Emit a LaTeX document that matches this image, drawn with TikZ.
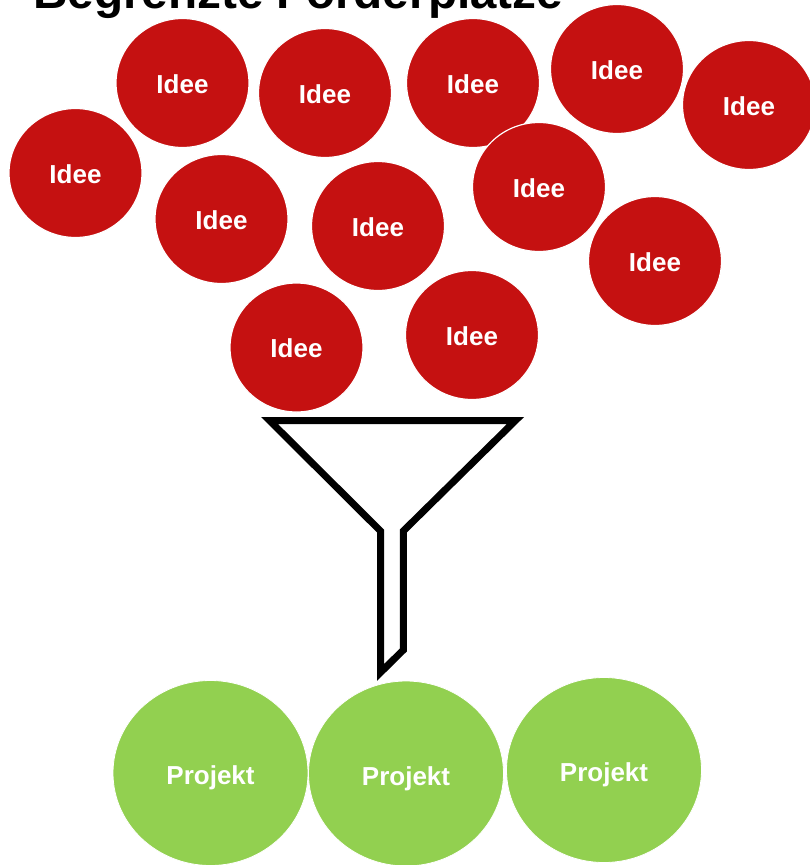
\documentclass[tikz,border=0pt]{standalone}
\usepackage{fontspec}
\setmainfont{Liberation Sans}
\usetikzlibrary{shapes.geometric}
\definecolor{ideared}{RGB}{197,17,17}
\definecolor{projgreen}{RGB}{146,208,80}
\begin{document}
\begin{tikzpicture}[x=1pt,y=-1pt,
  idea/.style={ellipse, fill=ideared, draw=white, line width=1.2pt,
    minimum width=133pt, minimum height=129pt, inner sep=0pt, outer sep=0pt,
    text height=20.6pt, text depth=0pt,
    text=white, font=\bfseries\fontsize{26}{30}\selectfont},
  project/.style={ellipse, fill=projgreen, draw=white, line width=0.8pt,
    minimum width=195pt, minimum height=185pt, inner sep=0pt, outer sep=0pt,
    text height=23pt, text depth=0pt,
    text=white, font=\bfseries\fontsize{26}{30}\selectfont},
  funnelline/.style={draw=black, line width=7pt, line join=miter}]
\useasboundingbox (0,0) rectangle (810,865);

\node[anchor=base west, inner sep=0pt, font=\bfseries\fontsize{47.7}{50}\selectfont] (title) at (33,8) {Begrenzte Förderplätze};

% ideas
\node[idea] (iA) at (182.5,83) {Idee};
\node[idea] (iB) at (325,93) {Idee};
\node[idea] (iC) at (75.5,173) {Idee};
\node[idea] (iD) at (221.5,219) {Idee};
\node[idea] (iE) at (378,226) {Idee};
\node[idea] (iF) at (473,83) {Idee};
\node[idea] (iG) at (617,69) {Idee};
\node[idea] (iH) at (749,105) {Idee};
\node[idea] (iI) at (539,187) {Idee};
\node[idea] (iJ) at (655,261) {Idee};
\node[idea] (iK) at (296.5,347.5) {Idee};
\node[idea] (iL) at (472,335) {Idee};

% funnel
\coordinate (f1) at (269.5,420.5);
\coordinate (f2) at (515.5,420.5);
\coordinate (f3) at (403.3,531);
\coordinate (f4) at (403.3,650);
\coordinate (f5) at (380.5,672.5);
\coordinate (f6) at (380.5,531);
\draw[funnelline] (f1) -- (f2) -- (f3) -- (f4) -- (f5) -- (f6) -- cycle;

% projects
\node[project] (p1) at (210.5,773) {Projekt};
\node[project] (p2) at (406,773.5) {Projekt};
\node[project] (p3) at (604,770) {Projekt};
\end{tikzpicture}
\end{document}
